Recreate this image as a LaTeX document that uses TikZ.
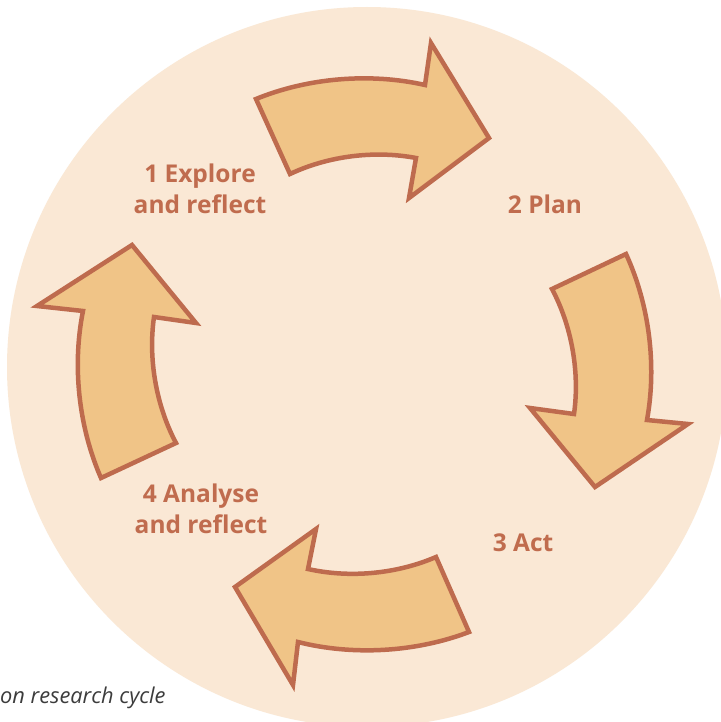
\documentclass[tikz,border=0pt]{standalone}
\usepackage{fontspec}
\setmainfont{Open Sans}
\definecolor{bgc}{HTML}{FAE8D5}
\definecolor{arrowfill}{HTML}{F0C487}
\definecolor{arrowline}{HTML}{BE6B4E}
\definecolor{labelc}{HTML}{C06C4E}
\definecolor{capc}{HTML}{3C3C3C}
\begin{document}
\begin{tikzpicture}[x=1pt,y=-1pt,
  cyclearrow/.style={fill=arrowfill, draw=arrowline, line width=4.5pt, line join=miter, miter limit=10},
  outerarc/.style={bend left=17.5, looseness=0.85},
  innerarc/.style={bend right=18, looseness=0.85},
  steplabel/.style={text=labelc, font=\bfseries\fontsize{24.5}{31}\selectfont, align=center, inner sep=0pt},
  captionlabel/.style={text=capc, font=\itshape\fontsize{21.8}{26}\selectfont, inner sep=0pt}]
\useasboundingbox (0,0) rectangle (720,722);
\fill[white] (0,0) rectangle (720,722);
% background disc
\fill[bgc] (367,367) circle[radius=360];
% arrows
\path[cyclearrow] (256,99) to[outerarc] (425,85) -- (431,43) -- (489,138) -- (409,198) -- (416,158) to[innerarc] (290,174) -- cycle;
\path[cyclearrow] (626,254) to[outerarc] (647,420) -- (688,424) -- (595,487) -- (530,408) -- (574,414) to[innerarc] (552,289) -- cycle;
\path[cyclearrow] (469,632) to[outerarc] (298,642) -- (293,685) -- (235,587) -- (316,529) -- (308,569) to[innerarc] (436,557) -- cycle;
\path[cyclearrow] (101,478) to[outerarc] (83,311) -- (37,306) -- (132,245) -- (196,323) -- (154,317) to[innerarc] (176,443) -- cycle;
% labels (base anchor = baseline of the last line)
\node[steplabel, anchor=base] (explore) at (200,213) {1 Explore\\and reflect};
\node[steplabel, anchor=base] (plan) at (545,213) {2 Plan};
\node[steplabel, anchor=base] (act) at (523,551) {3 Act};
\node[steplabel, anchor=base] (analyse) at (201,533) {4 Analyse\\and reflect};
\node[captionlabel, anchor=base west] (caption) at (0,703) {on research cycle};
\end{tikzpicture}
\end{document}
